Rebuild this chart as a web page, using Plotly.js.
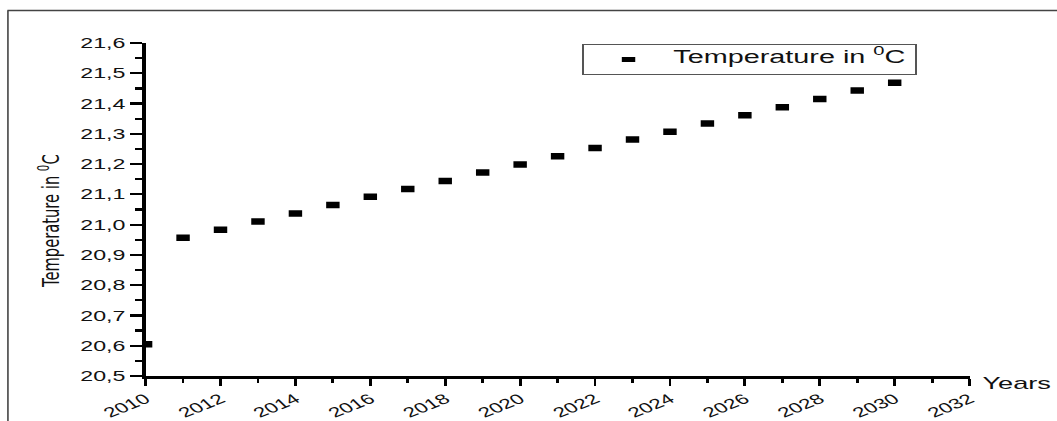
<!DOCTYPE html>
<html>
<head>
<meta charset="utf-8">
<script src="https://cdn.plot.ly/plotly-3.0.1.min.js"></script>
<style>
  html, body { margin: 0; padding: 0; background: #ffffff; }
  #wrap { width: 1057px; height: 421px; overflow: hidden; position: relative; }
  #chart { height: 421px; transform-origin: 0 0; }
</style>
</head>
<body>
<div id="wrap"><div id="chart"></div></div>
<script>
// ---- data ----
const years = [2010, 2011, 2012, 2013, 2014, 2015, 2016, 2017, 2018, 2019, 2020,
               2021, 2022, 2023, 2024, 2025, 2026, 2027, 2028, 2029, 2030];
const temperatures = [20.605, 20.957, 20.983, 21.010, 21.037, 21.065, 21.092, 21.118, 21.144, 21.172, 21.199,
                      21.226, 21.253, 21.281, 21.307, 21.334, 21.361, 21.388, 21.415, 21.443, 21.469];
const seriesName = 'Temperature in <sup>0</sup>C';
const xTickVals = [2010, 2012, 2014, 2016, 2018, 2020, 2022, 2024, 2026, 2028, 2030, 2032];
const xTickText = ['2010', '2012', '2014', '2016', '2018', '2020', '2022', '2024', '2026', '2028', '2030', '2032'];
const yTickVals = [20.5, 20.6, 20.7, 20.8, 20.9, 21.0, 21.1, 21.2, 21.3, 21.4, 21.5, 21.6];
const yTickText = ['20,5', '20,6', '20,7', '20,8', '20,9', '21,0', '21,1', '21,2', '21,3', '21,4', '21,5', '21,6'];
const xTitle = 'Years';
const yTitle = 'Temperature in <sup>0</sup>C';

// ---- geometry (the reference picture is horizontally stretched) ----
const S = 1.6;                 // horizontal stretch
const W = 1057, H = 421;
const plotLeft = 146, plotRight = 969, plotTop = 43, plotBottom = 376;  // picture pixels
const w = W / S;
document.getElementById('chart').style.width = w + 'px';
document.getElementById('chart').style.transform = 'scaleX(' + S + ')';
const mL = plotLeft / S, mR = (W - plotRight) / S;
const pw = (plotRight - plotLeft), ph = (plotBottom - plotTop);
const px2paperX = p => (p - plotLeft) / pw;
const px2paperY = p => (plotBottom - p) / ph;

const fam = '"Liberation Sans", Arial, sans-serif';

const trace = {
  type: 'scatter', mode: 'markers',
  x: years, y: temperatures,
  name: '<span style="font-size:18px">' + seriesName + '</span>',
  cliponaxis: true,
  marker: {symbol: 'line-ew', size: 6, color: '#000', line: {color: '#000', width: 6.5}}
};

const layout = {
  width: w, height: H,
  margin: {l: mL, r: mR, t: plotTop, b: H - plotBottom, pad: 0},
  paper_bgcolor: '#fff', plot_bgcolor: '#fff',
  showlegend: true,
  legend: {
    x: px2paperX(582), y: px2paperY(44), xanchor: 'left', yanchor: 'top',
    bgcolor: '#fff', bordercolor: '#555', borderwidth: 1,
    itemwidth: 46,
    font: {family: fam, size: 9, color: '#111'}
  },
  xaxis: {
    range: [2010, 2032], autorange: false,
    tickmode: 'array', tickvals: xTickVals, ticktext: xTickText,
    tickangle: -33, tickfont: {family: fam, size: 14, color: '#111'},
    ticks: 'outside', ticklen: 7, tickwidth: 1.8, tickcolor: '#000',
    minor: {tickmode: 'linear', tick0: 2010, dtick: 1, ticks: 'outside', ticklen: 4, tickwidth: 1.8, tickcolor: '#000'},
    showline: true, linewidth: 2.5, linecolor: '#000', mirror: false,
    showgrid: false, zeroline: false, automargin: false
  },
  yaxis: {
    range: [20.5, 21.6], autorange: false,
    tickmode: 'array', tickvals: yTickVals, ticktext: yTickText,
    tickfont: {family: fam, size: 14.5, color: '#111'},
    ticks: 'outside', ticklen: 7.5, tickwidth: 2.2, tickcolor: '#000',
    minor: {tickmode: 'linear', tick0: 20.5, dtick: 0.05, ticks: 'outside', ticklen: 4.4, tickwidth: 2.2, tickcolor: '#000'},
    showline: true, linewidth: 2.2, linecolor: '#000', mirror: false,
    showgrid: false, zeroline: false, automargin: false
  },
  annotations: [
    {text: xTitle, xref: 'paper', yref: 'paper',
     x: px2paperX(978), y: px2paperY(384), xanchor: 'left', yanchor: 'middle',
     showarrow: false, font: {family: fam, size: 17, color: '#111'}},
    {text: yTitle, xref: 'paper', yref: 'paper', textangle: -90,
     x: px2paperX(50), y: px2paperY(221), xanchor: 'center', yanchor: 'middle',
     showarrow: false, font: {family: '"DejaVu Sans", sans-serif', size: 14.7, color: '#111'}}
  ],
  shapes: [
    {type: 'line', xref: 'paper', yref: 'paper', x0: px2paperX(8), x1: px2paperX(1070),
     y0: px2paperY(10.5), y1: px2paperY(10.5), line: {color: '#444', width: 1.5}},
    {type: 'line', xref: 'paper', yref: 'paper', x0: px2paperX(8.5), x1: px2paperX(8.5),
     y0: px2paperY(10.5), y1: px2paperY(430), line: {color: '#444', width: 1}}
  ]
};

Plotly.newPlot('chart', [trace], layout, {displayModeBar: false, staticPlot: true});
</script>
</body>
</html>
